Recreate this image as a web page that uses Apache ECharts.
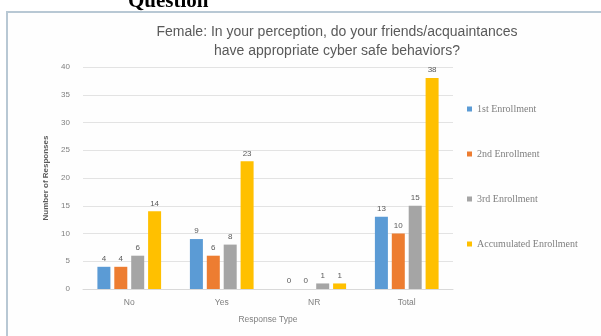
<!DOCTYPE html>
<html>
<head>
<meta charset="utf-8">
<script src="https://cdn.jsdelivr.net/npm/echarts@6/dist/echarts.min.js"></script>
<style>
  html, body { margin: 0; padding: 0; background: #ffffff; }
  #chart { width: 601px; height: 336px; }
</style>
</head>
<body>
<div id="chart"></div>
<script>
// Response categories and enrollment counts
const categories = ['No', 'Yes', 'NR', 'Total'];
const seriesNames = ['1st Enrollment', '2nd Enrollment', '3rd Enrollment', 'Accumulated Enrollment'];
const firstEnrollment = [4, 9, 0, 13];
const secondEnrollment = [4, 6, 0, 10];
const thirdEnrollment = [6, 8, 1, 15];
const accumulatedEnrollment = [14, 23, 1, 38];
const yTicks = [0, 5, 10, 15, 20, 25, 30, 35, 40];

const colors = ['#5b9bd5', '#ed7d31', '#a5a5a5', '#ffc000'];
const values = [firstEnrollment, secondEnrollment, thirdEnrollment, accumulatedEnrollment];
const textGray = '#7f7f7f';

const chart = echarts.init(document.getElementById('chart'));
chart.setOption({
  animation: false,
  backgroundColor: '#ffffff',
  graphic: [
    {
      type: 'rect',
      shape: { x: 7, y: 12, width: 600, height: 330 },
      style: { fill: '#fefefe', stroke: '#b8c8d4', lineWidth: 2 },
      z: -10
    },
    {
      type: 'text',
      left: 128,
      top: -9,
      style: {
        text: 'Question',
        font: 'bold 21px "Liberation Serif", "Times New Roman", serif',
        fill: '#000000'
      },
      z: 10
    }
  ],
  title: {
    text: 'Female: In your perception, do your friends/acquaintances\nhave appropriate cyber safe behaviors?',
    left: 332,
    top: 18,
    textAlign: 'center',
    textStyle: {
      fontFamily: 'Liberation Sans, Arial, sans-serif',
      fontSize: 14,
      fontWeight: 'normal',
      color: '#595959',
      lineHeight: 19
    }
  },
  legend: {
    orient: 'vertical',
    left: 462,
    top: 99,
    itemWidth: 5,
    itemHeight: 5,
    itemGap: 35,
    icon: 'rect',
    data: seriesNames,
    textStyle: { fontSize: 10, color: textGray, fontFamily: 'Liberation Serif, serif' }
  },
  grid: { left: 83, right: 148, top: 67, bottom: 47, containLabel: false },
  xAxis: {
    type: 'category',
    data: categories,
    name: 'Response Type',
    nameLocation: 'middle',
    nameGap: 26,
    nameTextStyle: { fontSize: 8.5, color: textGray },
    axisLine: { lineStyle: { color: '#d9d9d9' } },
    axisTick: { show: false },
    axisLabel: { fontSize: 8.5, color: textGray, margin: 9 }
  },
  yAxis: {
    type: 'value',
    min: yTicks[0],
    max: yTicks[yTicks.length - 1],
    interval: yTicks[1] - yTicks[0],
    name: 'Number of Responses',
    nameLocation: 'middle',
    nameGap: 33,
    nameRotate: 90,
    nameTextStyle: { fontSize: 8, color: '#595959', fontWeight: 'bold' },
    axisLine: { show: false },
    axisTick: { show: false },
    axisLabel: { fontSize: 8, color: textGray, margin: 13 },
    splitLine: { lineStyle: { color: '#e3e3e3' } }
  },
  series: seriesNames.map((name, i) => ({
    name: name,
    type: 'bar',
    data: values[i],
    barWidth: 13,
    barGap: '30%',
    itemStyle: { color: colors[i] },
    label: {
      show: true,
      position: 'top',
      distance: 4,
      fontSize: 8,
      color: '#595959'
    }
  }))
});
</script>
</body>
</html>
